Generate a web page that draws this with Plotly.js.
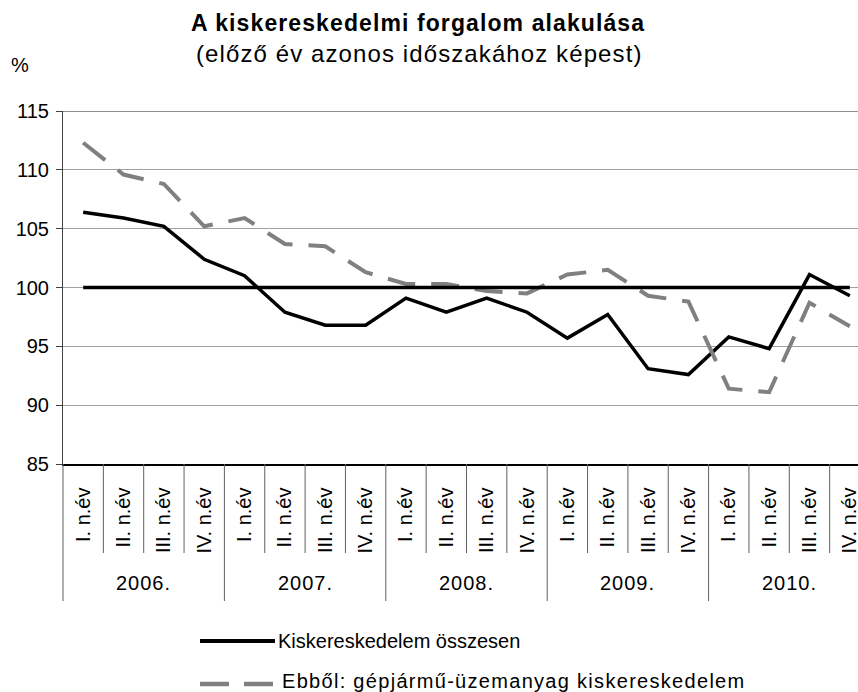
<!DOCTYPE html>
<html>
<head>
<meta charset="utf-8">
<script src="https://cdn.plot.ly/plotly-3.0.1.min.js"></script>
<style>
  html, body { margin: 0; padding: 0; background: #fff; overflow: hidden; }
  #chart { width: 858px; height: 692px; }
</style>
</head>
<body>
<div id="chart"></div>
<script>
// ---- data ----
const years = ["2006.", "2007.", "2008.", "2009.", "2010."];
const quarters = ["I. n.év", "II. n.év", "III. n.év", "IV. n.év"];
const total = [106.4, 105.9, 105.2, 102.4, 101.0, 97.9, 96.8, 96.8, 99.1, 97.9,
               99.1, 97.9, 95.7, 97.7, 93.1, 92.6, 95.8, 94.8, 101.1, 99.3];
const fuel = [112.3, 109.6, 108.8, 105.2, 105.9, 103.7, 103.5, 101.3, 100.3, 100.3,
              99.7, 99.5, 101.1, 101.5, 99.3, 98.8, 91.4, 91.1, 98.7, 96.7];
const reference = [100, 100, 100, 100, 100, 100, 100, 100, 100, 100,
                   100, 100, 100, 100, 100, 100, 100, 100, 100, 100];
const yTicks = [85, 90, 95, 100, 105, 110, 115];
const seriesNames = ["Kiskereskedelem összesen", "Ebből: gépjármű-üzemanyag kiskereskedelem"];
const titleText = "A kiskereskedelmi forgalom alakulása";
const subtitleText = "(előző év azonos időszakához képest)";
const unitText = "%";

// ---- derived category positions ----
const quarterLabels = [];
const xIdx = [];
years.forEach((y, yi) => quarters.forEach((q, qi) => {
  xIdx.push(yi * quarters.length + qi);
  quarterLabels.push(q);
}));

const FONT = "Liberation Sans, Arial, sans-serif";
const nQ = quarters.length;
const spaced = (t, s) => "<span style=\"letter-spacing:" + s + "px\">" + t + "</span>";

// pixel helpers for paper coords (plot area: l=63, t=111, w=795, h=353)
const PL = 63, PT = 111, PW = 795, PH = 353;
const px2x = p => (p - PL) / PW;
const py2y = p => (PT + PH - p) / PH;

const traces = [
  { x: xIdx, y: total, type: "scatter", mode: "lines", name: seriesNames[0],
    line: { color: "#000000", width: 3.5 }, hoverinfo: "y", showlegend: false },
  { x: xIdx, y: fuel, type: "scatter", mode: "lines", name: seriesNames[1],
    line: { color: "#808080", width: 4, dash: "28px,16px" }, hoverinfo: "y", showlegend: false },
  { x: xIdx, y: reference, type: "scatter", mode: "lines", name: "100",
    line: { color: "#000000", width: 3.5 }, hoverinfo: "skip", showlegend: false }
];

const shapes = [];
// category dividers below the axis
for (let i = 0; i < xIdx.length - 1; i++) {
  const isYear = (i + 1) % nQ === 0;
  shapes.push({ type: "line", xref: "x", yref: "paper", x0: i + 0.5, x1: i + 0.5,
    y0: 0, y1: isYear ? py2y(601) : py2y(553), line: { color: "#606060", width: 1 } });
}
shapes.push({ type: "line", xref: "paper", yref: "paper", x0: 0, x1: 0,
  y0: 0, y1: py2y(601), line: { color: "#606060", width: 1 } });
// top border gridline
shapes.push({ type: "line", xref: "paper", yref: "y", x0: 0, x1: 1, y0: yTicks[yTicks.length - 1],
  y1: yTicks[yTicks.length - 1], line: { color: "#909090", width: 2 } });
// legend samples
shapes.push({ type: "line", xref: "paper", yref: "paper", x0: px2x(200), x1: px2x(275),
  y0: py2y(641), y1: py2y(641), line: { color: "#000000", width: 4 } });
shapes.push({ type: "line", xref: "paper", yref: "paper", x0: px2x(200), x1: px2x(273),
  y0: py2y(684), y1: py2y(684), line: { color: "#808080", width: 4.5, dash: "29px,15px" } });

const annotations = [];
years.forEach((y, yi) => {
  annotations.push({ text: spaced(y, 1), xref: "x", yref: "paper", x: yi * nQ + (nQ - 1) / 2, y: py2y(583),
    showarrow: false, xanchor: "center", yanchor: "middle", font: { size: 20, color: "#000" } });
});
annotations.push({ text: spaced(subtitleText, 1.1), xref: "paper", yref: "paper",
  x: px2x(419), y: py2y(54), showarrow: false, xanchor: "center", yanchor: "middle",
  font: { size: 24, color: "#000" } });
annotations.push({ text: unitText, xref: "paper", yref: "paper", x: px2x(20), y: py2y(65),
  showarrow: false, xanchor: "center", yanchor: "middle", font: { size: 20, color: "#000" } });
annotations.push({ text: seriesNames[0], xref: "paper", yref: "paper", x: px2x(276), y: py2y(641),
  showarrow: false, xanchor: "left", yanchor: "middle", font: { size: 20, color: "#000" } });
annotations.push({ text: spaced(seriesNames[1], 1.3), xref: "paper", yref: "paper", x: px2x(280), y: py2y(681),
  showarrow: false, xanchor: "left", yanchor: "middle", font: { size: 20, color: "#000" } });

const layout = {
  width: 858, height: 692,
  margin: { l: PL, r: 0, t: PT, b: 692 - PT - PH, pad: 0 },
  paper_bgcolor: "#ffffff", plot_bgcolor: "#ffffff",
  font: { family: FONT, size: 20, color: "#000000" },
  title: { text: "<b>" + spaced(titleText, 1.1) + "</b>", font: { size: 23, color: "#000" },
    xref: "paper", x: px2x(418), xanchor: "center", yref: "container", y: 1 - 23 / 692, yanchor: "middle" },
  xaxis: {
    type: "linear", range: [-0.5, -0.5 + PW / 40.35], fixedrange: true,
    tickvals: xIdx, ticktext: quarterLabels, tickangle: -90, ticks: "",
    ticklabelstandoff: 14, ticklabeloverflow: "allow",
    showgrid: false, zeroline: false, showline: true, linecolor: "#000000", linewidth: 1.5,
    tickfont: { size: 20, color: "#000" }
  },
  yaxis: {
    range: [85, 115], tickvals: yTicks, fixedrange: true,
    ticks: "outside", ticklen: 6, tickcolor: "#404040", tickwidth: 1,
    ticklabelstandoff: 3,
    showgrid: true, gridcolor: "#a0a0a0", gridwidth: 1, zeroline: false,
    showline: true, linecolor: "#404040", linewidth: 1,
    tickfont: { size: 20, color: "#000" }
  },
  shapes: shapes,
  annotations: annotations,
  showlegend: false
};

Plotly.newPlot("chart", traces, layout, { displayModeBar: false, staticPlot: true });
</script>
</body>
</html>
